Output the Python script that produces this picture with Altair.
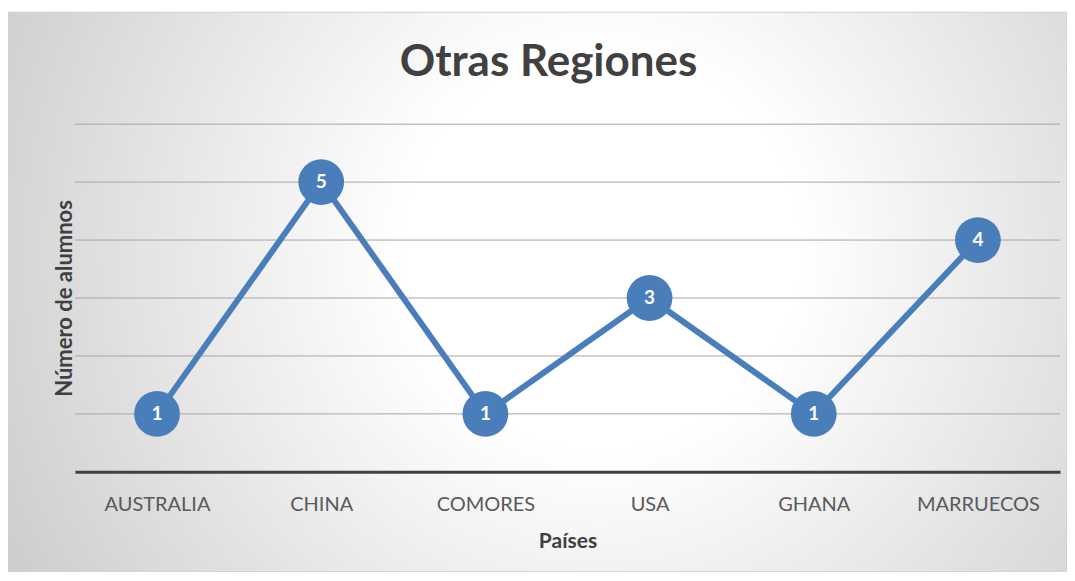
import altair as alt
import pandas as pd

paises = ["AUSTRALIA", "CHINA", "COMORES", "USA", "GHANA", "MARRUECOS"]
alumnos = [1, 5, 1, 3, 1, 4]
grid_values = [1, 2, 3, 4, 5, 6]

df = pd.DataFrame({"País": paises, "Alumnos": alumnos})
grid_df = pd.DataFrame({"v": grid_values})
bg_df = pd.DataFrame({"a": [0]})

W, H = 986, 348
FONT = "Lato"
BLUE = "#4a7ebb"

x_scale = alt.Scale(type="point", padding=0.5, domain=paises)
y_scale = alt.Scale(domain=[0, 6], nice=False)

x_axis = alt.Axis(
    title="Países", labelAngle=0, labelFont=FONT, labelFontSize=20,
    labelColor="#595959", ticks=False, domainColor="#404040", domainWidth=3,
    labelPadding=23, titleFont=FONT, titleFontSize=21, titleFontWeight="bold",
    titleColor="#404040", titlePadding=16, grid=False, zindex=1,
)
y_axis = alt.Axis(
    title="Número de alumnos", labels=False, ticks=False, domain=False,
    grid=False, titleFont=FONT, titleFontSize=22, titleFontWeight="bold",
    titleColor="#404040", titlePadding=-2, zindex=1,
)

gradient = {
    "gradient": "radial",
    "x1": 0.56, "y1": 0.46, "r1": 0,
    "x2": 0.56, "y2": 0.46, "r2": 0.75,
    "stops": [
        {"offset": 0, "color": "#ffffff"},
        {"offset": 0.25, "color": "#ffffff"},
        {"offset": 1, "color": "#c0c0c0"},
    ],
}

bg = alt.Chart(bg_df).mark_rect(fill=gradient, stroke="#d0d0d0", strokeWidth=1).encode(
    x=alt.value(-67), x2=alt.value(993), y=alt.value(-112), y2=alt.value(448)
)

grid = alt.Chart(grid_df).mark_rule(color="#a6a6a6", strokeWidth=1).encode(
    y=alt.Y("v:Q", scale=y_scale, axis=y_axis)
)

base = alt.Chart(df).encode(
    x=alt.X("País:N", sort=paises, scale=x_scale, axis=x_axis),
    y=alt.Y("Alumnos:Q", scale=y_scale, axis=y_axis),
)

line = base.mark_line(color=BLUE, strokeWidth=6)
pts = base.mark_point(filled=True, shape="circle", size=2100, color=BLUE, opacity=1)
txt = base.mark_text(color="white", fontSize=19, fontWeight="bold", font=FONT,
                     baseline="middle", align="center").encode(text="Alumnos:Q")

chart = alt.layer(bg, grid, line, pts, txt).properties(
    width=W, height=H,
    title=alt.TitleParams("Otras Regiones", font=FONT, fontSize=44, fontWeight="bold",
                          color="#404040", offset=-73, dx=-19, anchor="middle"),
    autosize=alt.AutoSizeParams(type="none"),
    padding={"left": 67, "top": 116, "right": 7, "bottom": 100},
).configure_view(stroke=None).configure(background="white")

chart.save("out.html", embed_options={"renderer": "svg", "actions": False})
